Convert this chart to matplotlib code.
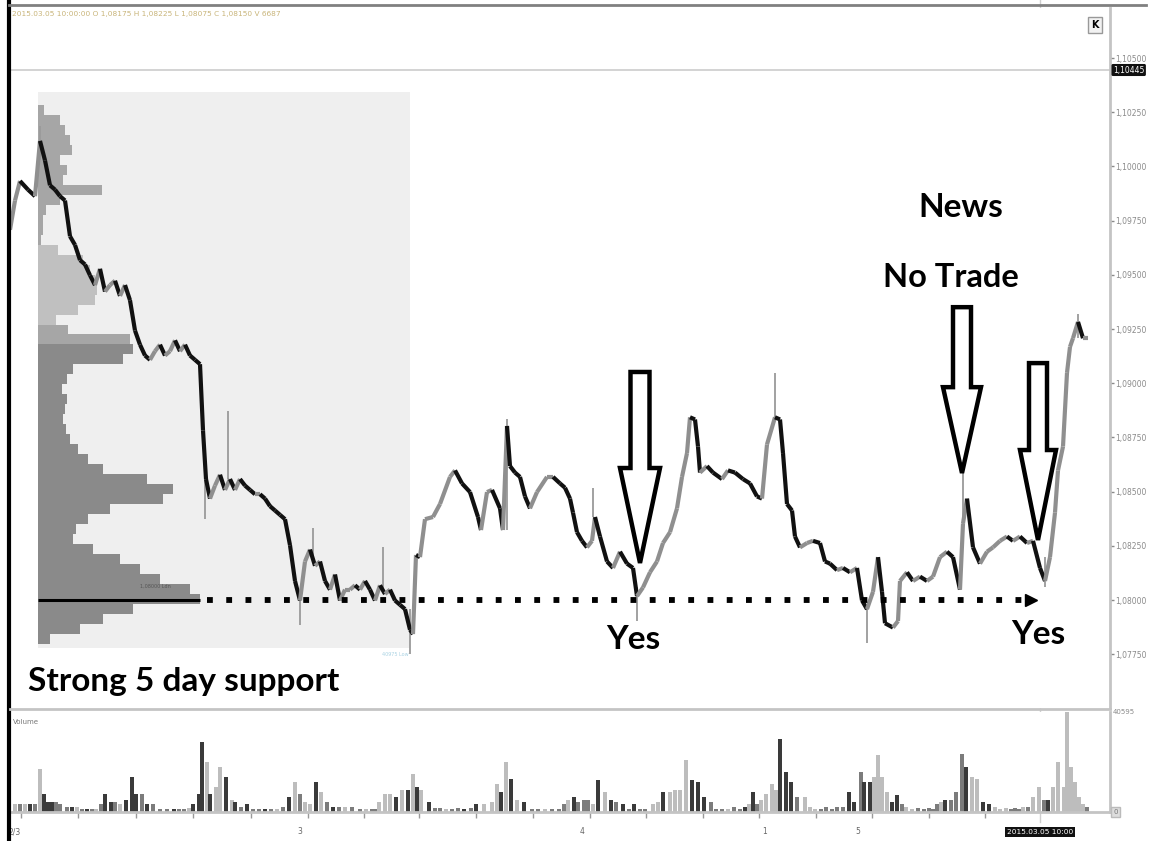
import numpy as np
import matplotlib.pyplot as plt
from matplotlib.collections import LineCollection
from matplotlib.patches import Polygon, Rectangle
from matplotlib.lines import Line2D

W, H = 1151, 841

# ---- price data (bar position, close) ----
bar = [10, 15, 20, 28, 35, 40, 45, 50, 55, 60, 65, 70, 75, 80, 85, 90, 95, 100, 105, 110,
       115, 120, 125, 130, 135, 140, 145, 150, 155, 160, 165, 170, 175, 180, 185, 190, 195, 200, 203, 206,
       210, 215, 220, 225, 230, 235, 240, 245, 250, 255, 260, 265, 270, 275, 280, 285, 290, 295, 300, 305,
       310, 315, 320, 325, 330, 335, 340, 345, 350, 355, 360, 365, 370, 375, 380, 385, 390, 395, 400, 405,
       410, 413, 416, 420, 425, 433, 440, 450, 455, 462, 470, 478, 481, 487, 492, 500, 503, 507, 510, 515,
       520, 525, 530, 537, 547, 553, 560, 565, 570, 573, 577, 582, 587, 592, 595, 600, 607, 613, 620, 627,
       633, 637, 643, 650, 657, 663, 670, 677, 682, 687, 690, 695, 698, 700, 707, 713, 722, 728, 735, 743,
       750, 757, 762, 767, 775, 780, 783, 787, 792, 795, 800, 807, 813, 820, 825, 830, 837, 843, 850, 857,
       862, 867, 873, 878, 882, 885, 893, 898, 900, 907, 913, 920, 927, 933, 940, 947, 953, 960, 963, 967,
       973, 980, 987, 993, 1000, 1007, 1013, 1020, 1027, 1033, 1040, 1045, 1050, 1055, 1058, 1063, 1067, 1070, 1073, 1078,
       1083, 1088]
close = [1.09708, 1.09843, 1.09933, 1.09893, 1.09863, 1.10118, 1.10028, 1.09913, 1.09893, 1.09863,
         1.09843, 1.09678, 1.09638, 1.09568, 1.09548, 1.09498, 1.09453, 1.09528, 1.09423, 1.09453,
         1.09473, 1.09403, 1.09453, 1.09383, 1.09243, 1.09178, 1.09128, 1.09108, 1.09148, 1.09178,
         1.09128, 1.09148, 1.09198, 1.09148, 1.09178, 1.09128, 1.09108, 1.09088, 1.08783, 1.08558,
         1.08468, 1.08528, 1.08578, 1.08508, 1.08558, 1.08508, 1.08558, 1.08528, 1.08508, 1.08488,
         1.08488, 1.08468, 1.08433, 1.08413, 1.08393, 1.08373, 1.08253, 1.08088, 1.07998, 1.08178,
         1.08233, 1.08158, 1.08178, 1.08088, 1.08048, 1.08118, 1.07998, 1.08048, 1.08048, 1.08068,
         1.08048, 1.08088, 1.08048, 1.07998, 1.08068, 1.08028, 1.08048, 1.07998, 1.07978, 1.07958,
         1.07863, 1.07843, 1.08208, 1.08198, 1.08373, 1.08383, 1.08443, 1.08568, 1.08598, 1.08538,
         1.08498, 1.08383, 1.08323, 1.08498, 1.08508, 1.08423, 1.08323, 1.08803, 1.08618, 1.08588,
         1.08568, 1.08478, 1.08423, 1.08498, 1.08568, 1.08568, 1.08538, 1.08518, 1.08468, 1.08403,
         1.08313, 1.08273, 1.08243, 1.08273, 1.08383, 1.08293, 1.08178, 1.08148, 1.08223, 1.08168,
         1.08148, 1.08018, 1.08058, 1.08128, 1.08178, 1.08263, 1.08313, 1.08423, 1.08568, 1.08678,
         1.08843, 1.08833, 1.08708, 1.08588, 1.08618, 1.08588, 1.08558, 1.08598, 1.08588, 1.08558,
         1.08538, 1.08478, 1.08468, 1.08718, 1.08843, 1.08833, 1.08678, 1.08443, 1.08413, 1.08293,
         1.08243, 1.08263, 1.08273, 1.08263, 1.08178, 1.08168, 1.08138, 1.08148, 1.08128, 1.08148,
         1.07998, 1.07958, 1.08038, 1.08198, 1.08038, 1.07893, 1.07873, 1.07903, 1.08088, 1.08128,
         1.08088, 1.08108, 1.08088, 1.08108, 1.08198, 1.08223, 1.08198, 1.08048, 1.08353, 1.08468,
         1.08243, 1.08168, 1.08223, 1.08243, 1.08273, 1.08293, 1.08273, 1.08293, 1.08263, 1.08273,
         1.08148, 1.08088, 1.08198, 1.08403, 1.08598, 1.08708, 1.09048, 1.09168, 1.09208, 1.09283,
         1.09208, 1.09208]

# high / low wicks that stick out of the close line
wick_bar = [40, 205, 228, 300, 313, 383, 410, 507, 593, 637, 775, 867, 963, 1045, 1078]
wick_lo = [1.10028, 1.08373, 1.08558, 1.07883, 1.08178, 1.08048, 1.07753, 1.08323, 1.08383, 1.07903,
           1.08833, 1.07803, 1.08353, 1.08058, 1.09208]
wick_hi = [1.10188, 1.08558, 1.08873, 1.07998, 1.08333, 1.08243, 1.07958, 1.08833, 1.08518, 1.08058,
           1.09048, 1.07958, 1.08588, 1.08198, 1.09318]

# 5-day volume profile, rows from the top level downward (width in bars)
profile_top = 1.10260
profile_step = 0.00046
profile_width = [6, 22, 27, 32, 34, 22, 29, 25, 64, 22, 8, 5, 5, 3, 20, 45, 52, 57, 59, 57,
                 40, 18, 30, 92, 95, 85, 35, 29, 24, 29, 27, 25, 28, 32, 40, 50, 65, 109, 135, 125,
                 72, 50, 38, 35, 55, 82, 102, 122, 152, 162, 95, 65, 42, 12]
# row index where each shade of the profile starts
profile_bands = [(0, "#a6a6a6"), (14, "#c0c0c0"), (22, "#a6a6a6"), (24, "#8a8a8a")]

support = 1.0800

# ---- volume ----
vol_bar = [15, 20, 25, 30, 35, 40, 44, 48, 52, 56, 60, 67, 72, 77, 82, 87, 92, 96, 101, 105,
           111, 115, 120, 126, 132, 136, 142, 147, 153, 160, 167, 174, 179, 184, 189, 193, 199, 202, 207, 210,
           216, 220, 226, 232, 235, 241, 247, 253, 259, 265, 271, 277, 283, 289, 295, 300, 305, 310, 316, 321,
           327, 333, 339, 345, 352, 360, 366, 372, 375, 379, 385, 390, 396, 402, 408, 413, 417, 421, 429, 435,
           440, 446, 452, 458, 464, 471, 476, 484, 492, 497, 501, 506, 511, 517, 524, 532, 538, 545, 552, 559,
           564, 568, 574, 578, 584, 588, 593, 598, 605, 611, 616, 623, 629, 634, 640, 645, 653, 658, 663, 670,
           675, 680, 686, 692, 698, 704, 711, 716, 722, 728, 734, 740, 745, 749, 753, 757, 761, 766, 772, 776,
           780, 786, 791, 797, 805, 810, 815, 821, 826, 832, 837, 843, 849, 854, 861, 864, 870, 874, 878, 882,
           887, 892, 897, 902, 906, 912, 918, 924, 929, 933, 937, 941, 945, 951, 956, 962, 966, 972, 977, 983,
           989, 995, 1000, 1006, 1011, 1015, 1019, 1023, 1028, 1033, 1039, 1044, 1048, 1053, 1058, 1064, 1067, 1071, 1075, 1079,
           1083, 1087]
vol = [3200, 3200, 3200, 3200, 3200, 17500, 7300, 4100, 4100, 4100, 3200, 2000, 2000, 2000, 1200, 1200, 1200, 1200, 3200, 7300,
       4100, 4100, 3200, 4900, 14200, 7300, 7300, 3200, 3200, 1200, 1200, 1200, 1200, 1200, 1600, 3200, 7300, 28400, 20300, 7300,
       10100, 18300, 14200, 4900, 4100, 2000, 3200, 1200, 1200, 1200, 1200, 1200, 2000, 6100, 12200, 7300, 4100, 3200, 12200, 8100,
       4100, 2000, 2000, 2000, 2000, 1200, 1200, 1200, 1200, 4100, 7300, 7300, 6100, 8900, 8900, 15400, 10100, 8900, 4100, 1600,
       1600, 1200, 1200, 1600, 1200, 1600, 3200, 3200, 4100, 11400, 8100, 20300, 13400, 4900, 4100, 1200, 1200, 1200, 1200, 1200,
       3200, 4900, 6100, 4100, 4900, 4900, 3200, 13000, 8100, 4900, 4100, 3200, 1200, 3200, 1200, 1200, 3200, 4100, 8100, 8100,
       8900, 8900, 21100, 13000, 12200, 6100, 4100, 1200, 1200, 1200, 2000, 1200, 2000, 3200, 8100, 3200, 4900, 7300, 11400, 8900,
       29600, 16200, 12200, 6100, 6100, 2000, 1200, 1200, 2000, 1200, 2000, 2000, 8100, 4100, 16200, 12200, 12200, 14200, 23100, 14200,
       8100, 4100, 6900, 3200, 2000, 1200, 1600, 1200, 1600, 1200, 3200, 4100, 4900, 4900, 8100, 23500, 18300, 14200, 13400, 4100,
       3200, 2000, 1200, 1600, 1200, 1600, 1200, 2000, 2000, 6100, 10100, 4900, 4900, 10100, 20300, 10100, 40600, 18300, 12200, 6100,
       3200, 2000]
vol_shade = ("lmldmldddmmmdlmdmlmd"
             "dmldddmdmmmdmmldddld"
             "lldldmdmmdmlmdlmlldl"
             "mdmlmmlmmllldldldldm"
             "mlmmdmdllldldldmmlmm"
             "mldmmmldldmdmdmmlldl"
             "llldddmmmlmmdldmlllld"
             "ddmlllmmmmmddmddlllld"
             "dmllmmmmmldmmmdlldd"
             "lllmmmlmllmdllllllllm"
             "m")

price_ticks = [1.0775, 1.0800, 1.0825, 1.0850, 1.0875, 1.0900, 1.0925, 1.0950, 1.0975, 1.1000, 1.1025, 1.1050]
time_ticks = [21, 78, 136, 193, 251, 308, 364, 419, 476, 533, 590, 646, 703, 759, 816, 872, 929, 985]
day_labels = {15: "2/3", 300: "3", 582: "4", 765: "1", 858: "5"}

SHADES = {"d": "#3a3a3a", "m": "#7c7c7c", "l": "#bdbdbd"}
ANNOT = ["Lato", "DejaVu Sans"]


def px_axes(fig, x0, y0, x1, y1):
    return fig.add_axes([x0 / W, 1 - y1 / H, (x1 - x0) / W, (y1 - y0) / H])


def hollow_arrow(ax, x, top, neck, tip, shaft_w, head_w):
    pts = [(x - shaft_w / 2, top), (x + shaft_w / 2, top), (x + shaft_w / 2, neck),
           (x + head_w / 2, neck), (x, tip), (x - head_w / 2, neck), (x - shaft_w / 2, neck)]
    ax.add_patch(Polygon(pts, closed=True, facecolor="white", edgecolor="black",
                         lw=3.2, joinstyle="miter", zorder=6))


fig = plt.figure(figsize=(W / 100, H / 100), dpi=100)
fig.patch.set_facecolor("white")

ax = px_axes(fig, 10, 8, 1110, 708)
ax.set_xlim(10, 1110)
ax.set_ylim(1.07502, 1.10731)
for s in ["top", "left", "bottom"]:
    ax.spines[s].set_visible(False)
ax.spines["right"].set_color("#c4c4c4")
ax.spines["right"].set_linewidth(2)
ax.set_xticks([])
ax.yaxis.tick_right()
ax.set_yticks(price_ticks)
ax.set_yticklabels([f"{p:.5f}".replace(".", ",") for p in price_ticks])
ax.tick_params(axis="y", labelsize=5.5, colors="#8a8a8a", length=3, width=1, pad=1)

# profile background and bars
ax.add_patch(Rectangle((38, 1.07779), 372, 1.10343 - 1.07779, facecolor="#efefef", edgecolor="none", zorder=0))
levels = profile_top - profile_step * np.arange(len(profile_width))
pcol = []
for i in range(len(profile_width)):
    pcol.append([c for start, c in profile_bands if i >= start][-1])
ax.barh(levels, profile_width, height=profile_step, left=38, color=pcol, edgecolor="none", zorder=1)
ax.hlines(support, 38, 200, color="black", lw=2.2, zorder=3)
ax.text(140, 1.08055, "1,08000 Ldn", fontsize=3.5, color="#555555", zorder=3)
ax.text(382, 1.07742, "40975 Low", fontsize=3.5, color="#a9d2e3", zorder=3)

# price line, down moves black, up moves grey
pts = np.column_stack([bar, close])
segs = np.stack([pts[:-1], pts[1:]], axis=1)
seg_col = ["#111111" if b < a else "#8f8f8f" for a, b in zip(close[:-1], close[1:])]
ax.add_collection(LineCollection(segs, colors=seg_col, linewidths=3.0, zorder=4, capstyle="butt"))
ax.vlines(wick_bar, wick_lo, wick_hi, color="#9a9a9a", lw=1.3, zorder=3)

# dotted support line with arrow head
ax.plot([207, 1026], [support, support], color="black", lw=4.2, linestyle=(0, (1, 2.3)),
        dash_capstyle="butt", zorder=5)
ax.plot([1031], [support], marker=">", ms=8, color="black", zorder=5)

# header and separator
ax.axhline(1.10445, color="#cccccc", lw=1.2, zorder=1)
ax.text(12, 1.10703, "2015.03.05 10:00:00 O 1,08175 H 1,08225 L 1,08075 C 1,08150 V 6687",
        fontsize=5.3, color="#c9b57a", va="center")
ax.text(1113, 1.10445, "1,10445", fontsize=5.5, color="white", va="center",
        clip_on=False, bbox=dict(boxstyle="round,pad=0.2", fc="#111111", ec="none"))

# annotations
hollow_arrow(ax, 640, 1.09052, 1.08609, 1.08171, 19, 40)
hollow_arrow(ax, 962, 1.09351, 1.08982, 1.08586, 18, 38)
hollow_arrow(ax, 1038, 1.09093, 1.08692, 1.08277, 18, 36)
ax.text(633, 1.07816, "Yes", fontsize=24, family=ANNOT, weight="bold", ha="center", va="center", zorder=7)
ax.text(1038, 1.07839, "Yes", fontsize=24, family=ANNOT, weight="bold", ha="center", va="center", zorder=7)
ax.text(961, 1.09813, "News", fontsize=24, family=ANNOT, weight="bold", ha="center", va="center", zorder=7)
ax.text(951, 1.09490, "No Trade", fontsize=23.5, family=ANNOT, weight="bold", ha="center", va="center", zorder=7)
ax.text(28, 1.07622, "Strong 5 day support", fontsize=24, family=ANNOT, weight="bold",
        ha="left", va="center", zorder=7)

# ---- volume panel ----
av = px_axes(fig, 10, 712, 1110, 812)
av.set_xlim(10, 1110)
av.set_ylim(0, 40595)
av.bar(vol_bar, vol, width=4.5, color=[SHADES[c] for c in vol_shade], edgecolor="none")
for s in ["top", "left"]:
    av.spines[s].set_visible(False)
av.spines["right"].set_color("#c4c4c4")
av.spines["right"].set_linewidth(2)
av.spines["bottom"].set_color("#c4c4c4")
av.spines["bottom"].set_linewidth(2)
av.set_yticks([])
av.set_xticks(time_ticks)
av.set_xticklabels([])
av.tick_params(axis="x", length=4, width=1, colors="#999999")
for x, lab in day_labels.items():
    av.text(x, -0.2, lab, transform=av.get_xaxis_transform(), fontsize=5.5, color="#666666",
            ha="center", va="center")
av.text(0.003, 0.9, "Volume", transform=av.transAxes, fontsize=5, color="#777777", va="center")
av.text(1113, 40595, "40595", fontsize=5, color="#8a8a8a", va="center", clip_on=False)
av.text(1113, 0, "0", fontsize=5, color="#777777", va="center", clip_on=False,
        bbox=dict(boxstyle="square,pad=0.3", fc="#dddddd", ec="#bbbbbb"))
av.text(1040, -0.2, "2015.03.05 10:00", transform=av.get_xaxis_transform(), fontsize=5.3,
        color="white", ha="center", va="center",
        bbox=dict(boxstyle="square,pad=0.25", fc="#111111", ec="none"))

# frame lines, crosshair, panel divider
fig.add_artist(Line2D([9 / W, 9 / W], [0, 1], color="black", lw=3))
fig.add_artist(Line2D([9 / W, 1146 / W], [1 - 5 / H, 1 - 5 / H], color="#808080", lw=2))
fig.add_artist(Line2D([10 / W, 1110 / W], [1 - 709 / H, 1 - 709 / H], color="#c4c4c4", lw=2))
fig.add_artist(Line2D([1040 / W, 1040 / W], [1 - 822 / H, 1], color="#cfcfcf", lw=1, zorder=0))
fig.add_artist(Rectangle((1088 / W, 1 - 33 / H), 14 / W, 16 / H, facecolor="#f2f2f2",
                         edgecolor="#999999", lw=1, transform=fig.transFigure))
fig.text(1095 / W, 1 - 25 / H, "K", fontsize=7, weight="bold", ha="center", va="center")

fig.savefig("out.png", dpi=100)
